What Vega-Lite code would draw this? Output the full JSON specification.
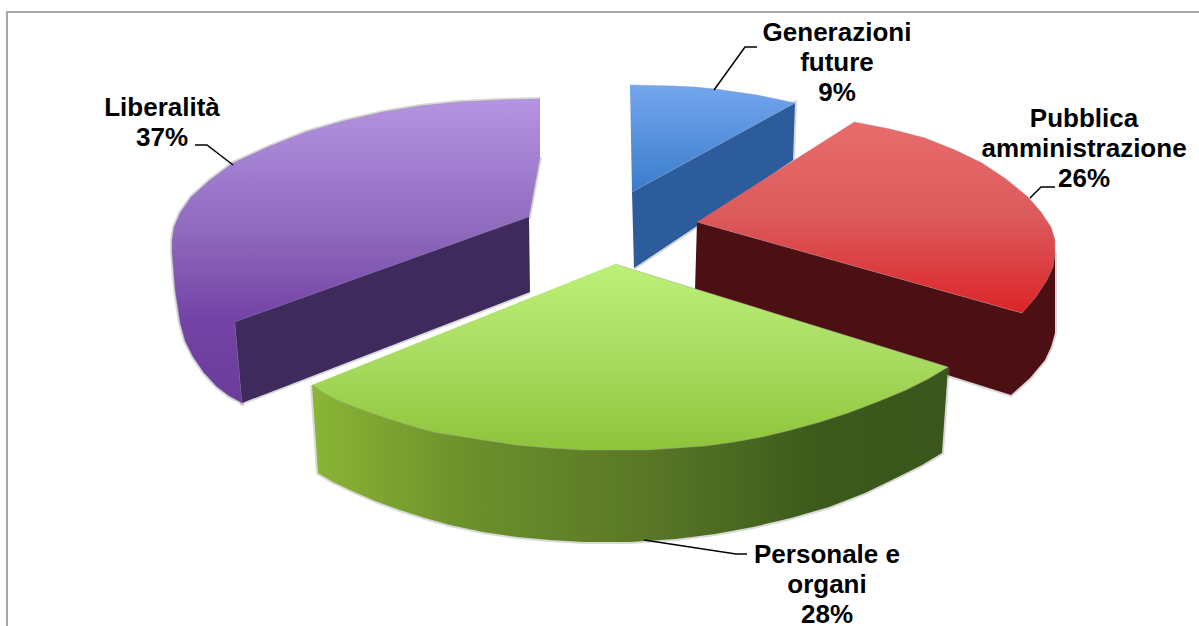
{
"$schema":"https://vega.github.io/schema/vega-lite/v6.json",
"width":1199,"height":626,"padding":0,
"autosize":"none",
"background":"white",
"view":{"stroke":null},
"datasets":{
"frame":[{"i":1,"x":7,"y":626},{"i":2,"x":7,"y":12},{"i":3,"x":1199,"y":12}],
"blueSide":[{"i":1,"x":632,"y":192},{"i":2,"x":795,"y":103},{"i":3,"x":793,"y":160},{"i":4,"x":697,"y":226},{"i":5,"x":634,"y":268}],
"blueTop":[{"i":1,"x":630,"y":85},{"i":2,"x":673,"y":86},{"i":3,"x":694,"y":87},{"i":4,"x":715,"y":89},{"i":5,"x":736,"y":92},{"i":6,"x":757,"y":95},{"i":7,"x":776,"y":99},{"i":8,"x":795,"y":103},{"i":9,"x":632,"y":192}],
"purpleSide":[{"i":1,"x":529,"y":217},{"i":2,"x":235,"y":322},{"i":3,"x":242,"y":403},{"i":4,"x":530,"y":292}],
"purpleTop":[{"i":1,"x":540,"y":99},{"i":2,"x":500,"y":100},{"i":3,"x":459,"y":102},{"i":4,"x":420,"y":106},{"i":5,"x":383,"y":112},{"i":6,"x":344,"y":121},{"i":7,"x":306,"y":132},{"i":8,"x":268,"y":147},{"i":9,"x":233,"y":163},{"i":10,"x":210,"y":180},{"i":11,"x":191,"y":197},{"i":12,"x":180,"y":213},{"i":13,"x":174,"y":227},{"i":14,"x":172,"y":240},{"i":15,"x":172,"y":253},{"i":16,"x":175,"y":290},{"i":17,"x":180,"y":323},{"i":18,"x":185,"y":341},{"i":19,"x":193,"y":357},{"i":20,"x":204,"y":373},{"i":21,"x":217,"y":387},{"i":22,"x":229,"y":396},{"i":23,"x":242,"y":403},{"i":24,"x":235,"y":322},{"i":25,"x":529,"y":217},{"i":26,"x":540,"y":157}],
"redSide":[{"i":1,"x":697,"y":222},{"i":2,"x":1022,"y":313},{"i":3,"x":1055,"y":253},{"i":4,"x":1055,"y":333},{"i":5,"x":1051,"y":347},{"i":6,"x":1045,"y":360},{"i":7,"x":1030,"y":378},{"i":8,"x":1011,"y":395},{"i":9,"x":900,"y":360},{"i":10,"x":695,"y":290}],
"redTop":[{"i":1,"x":854,"y":122},{"i":2,"x":890,"y":129},{"i":3,"x":925,"y":138},{"i":4,"x":955,"y":150},{"i":5,"x":982,"y":163},{"i":6,"x":1006,"y":179},{"i":7,"x":1028,"y":197},{"i":8,"x":1041,"y":212},{"i":9,"x":1051,"y":227},{"i":10,"x":1055,"y":240},{"i":11,"x":1055,"y":253},{"i":12,"x":1053,"y":267},{"i":13,"x":1047,"y":280},{"i":14,"x":1036,"y":297},{"i":15,"x":1022,"y":313},{"i":16,"x":697,"y":222}],
"greenSide":[{"i":1,"x":312,"y":385},{"i":2,"x":318,"y":473},{"i":3,"x":333,"y":482},{"i":4,"x":350,"y":490},{"i":5,"x":375,"y":501},{"i":6,"x":400,"y":510},{"i":7,"x":425,"y":518},{"i":8,"x":450,"y":525},{"i":9,"x":483,"y":532},{"i":10,"x":517,"y":537},{"i":11,"x":550,"y":540},{"i":12,"x":583,"y":542},{"i":13,"x":630,"y":542},{"i":14,"x":676,"y":539},{"i":15,"x":715,"y":534},{"i":16,"x":753,"y":527},{"i":17,"x":791,"y":518},{"i":18,"x":829,"y":507},{"i":19,"x":865,"y":493},{"i":20,"x":898,"y":477},{"i":21,"x":922,"y":465},{"i":22,"x":942,"y":453},{"i":23,"x":948,"y":367}],
"greenTop":[{"i":1,"x":615,"y":264},{"i":2,"x":948,"y":367},{"i":3,"x":928,"y":379},{"i":4,"x":906,"y":390},{"i":5,"x":877,"y":402},{"i":6,"x":848,"y":413},{"i":7,"x":820,"y":422},{"i":8,"x":791,"y":430},{"i":9,"x":762,"y":437},{"i":10,"x":734,"y":442},{"i":11,"x":705,"y":446},{"i":12,"x":676,"y":448},{"i":13,"x":647,"y":450},{"i":14,"x":617,"y":450},{"i":15,"x":583,"y":450},{"i":16,"x":550,"y":448},{"i":17,"x":516,"y":445},{"i":18,"x":483,"y":440},{"i":19,"x":458,"y":436},{"i":20,"x":433,"y":432},{"i":21,"x":408,"y":425},{"i":22,"x":383,"y":417},{"i":23,"x":360,"y":409},{"i":24,"x":337,"y":400},{"i":25,"x":324,"y":393},{"i":26,"x":312,"y":385}],
"leaders":[{"slice":"Generazioni future","i":1,"x":714,"y":90},{"slice":"Generazioni future","i":2,"x":745,"y":47},{"slice":"Generazioni future","i":3,"x":757,"y":47},{"slice":"Pubblica amministrazione","i":1,"x":1030,"y":198},{"slice":"Pubblica amministrazione","i":2,"x":1041,"y":187},{"slice":"Pubblica amministrazione","i":3,"x":1055,"y":187},{"slice":"Liberalità","i":1,"x":233,"y":165},{"slice":"Liberalità","i":2,"x":207,"y":145},{"slice":"Liberalità","i":3,"x":195,"y":145},{"slice":"Personale e organi","i":1,"x":644,"y":540},{"slice":"Personale e organi","i":2,"x":736,"y":554},{"slice":"Personale e organi","i":3,"x":747,"y":554}],
"labels":[{"label":"Generazioni\nfuture\n9%","x":837,"y":33},{"label":"Pubblica\namministrazione\n26%","x":1084,"y":119},{"label":"Liberalità\n37%","x":162,"y":108},{"label":"Personale e\norgani\n28%","x":827,"y":555}]
},
"encoding":{
"x":{"field":"x","type":"quantitative","axis":null,"scale":{"domain":[0,1199],"nice":false,"zero":false}},
"y":{"field":"y","type":"quantitative","axis":null,"scale":{"domain":[626,0],"nice":false,"zero":false}}
},
"layer":[
{"data":{"name":"frame"},"mark":{"type":"line","stroke":"#a6a6a6","strokeWidth":2},"encoding":{"order":{"field":"i"}}},
{"data":{"name":"blueSide"},"mark":{"type":"line","stroke":"#808080","strokeOpacity":0.3,"strokeWidth":4},"encoding":{"order":{"field":"i"}}},
{"data":{"name":"blueSide"},"mark":{"type":"line","stroke":null,"fill":"#2c5c9c"},"encoding":{"order":{"field":"i"}}},
{"data":{"name":"blueTop"},"mark":{"type":"line","stroke":"#7f9fc8","strokeWidth":0.5,"fill":{"gradient":"linear","x1":0,"y1":0,"x2":0,"y2":1,"stops":[{"offset":0,"color":"#74a6ee"},{"offset":1,"color":"#3a7ccb"}]}},"encoding":{"order":{"field":"i"}}},
{"data":{"name":"purpleTop"},"mark":{"type":"line","stroke":"#808080","strokeOpacity":0.3,"strokeWidth":4},"encoding":{"order":{"field":"i"}}},
{"data":{"name":"purpleSide"},"mark":{"type":"line","stroke":"#808080","strokeOpacity":0.3,"strokeWidth":4},"encoding":{"order":{"field":"i"}}},
{"data":{"name":"purpleTop"},"mark":{"type":"line","stroke":"#9a8ab0","strokeWidth":0.5,"fill":{"gradient":"linear","x1":0,"y1":0,"x2":0,"y2":1,"stops":[{"offset":0,"color":"#b594e3"},{"offset":0.45,"color":"#8d68bb"},{"offset":0.72,"color":"#7443a6"},{"offset":1,"color":"#6a3c9a"}]}},"encoding":{"order":{"field":"i"}}},
{"data":{"name":"purpleSide"},"mark":{"type":"line","stroke":null,"fill":"#3f2a5e"},"encoding":{"order":{"field":"i"}}},
{"data":{"name":"redSide"},"mark":{"type":"line","stroke":"#808080","strokeOpacity":0.3,"strokeWidth":4},"encoding":{"order":{"field":"i"}}},
{"data":{"name":"redSide"},"mark":{"type":"line","stroke":null,"fill":"#4c0f14"},"encoding":{"order":{"field":"i"}}},
{"data":{"name":"redTop"},"mark":{"type":"line","stroke":"#b08080","strokeWidth":0.5,"fill":{"gradient":"linear","x1":0,"y1":0,"x2":0,"y2":1,"stops":[{"offset":0,"color":"#e96c6c"},{"offset":0.5,"color":"#db5a5c"},{"offset":1,"color":"#dc2428"}]}},"encoding":{"order":{"field":"i"}}},
{"data":{"name":"greenSide"},"mark":{"type":"line","stroke":"#808080","strokeOpacity":0.3,"strokeWidth":4},"encoding":{"order":{"field":"i"}}},
{"data":{"name":"greenSide"},"mark":{"type":"line","stroke":null,"fill":{"gradient":"linear","x1":0,"y1":0,"x2":1,"y2":0,"stops":[{"offset":0,"color":"#8ab535"},{"offset":0.25,"color":"#6c8f2b"},{"offset":0.55,"color":"#577525"},{"offset":0.8,"color":"#3b5a1b"},{"offset":1,"color":"#3a561c"}]}},"encoding":{"order":{"field":"i"}}},
{"data":{"name":"greenTop"},"mark":{"type":"line","stroke":"#9aa88a","strokeWidth":0.5,"fill":{"gradient":"linear","x1":0,"y1":0,"x2":0,"y2":1,"stops":[{"offset":0,"color":"#bdf078"},{"offset":0.5,"color":"#a8db60"},{"offset":1,"color":"#8ec43a"}]}},"encoding":{"order":{"field":"i"}}},
{"data":{"name":"leaders"},"mark":{"type":"line","stroke":"#000000","strokeWidth":1.5},"encoding":{"detail":{"field":"slice"},"order":{"field":"i"}}},
{"data":{"name":"labels"},"mark":{"type":"text","font":"Liberation Sans","fontWeight":"bold","fontSize":26,"lineBreak":"\n","lineHeight":30,"align":"center","baseline":"middle","fill":"#000000"},"encoding":{"text":{"field":"label"}}}
]
}
